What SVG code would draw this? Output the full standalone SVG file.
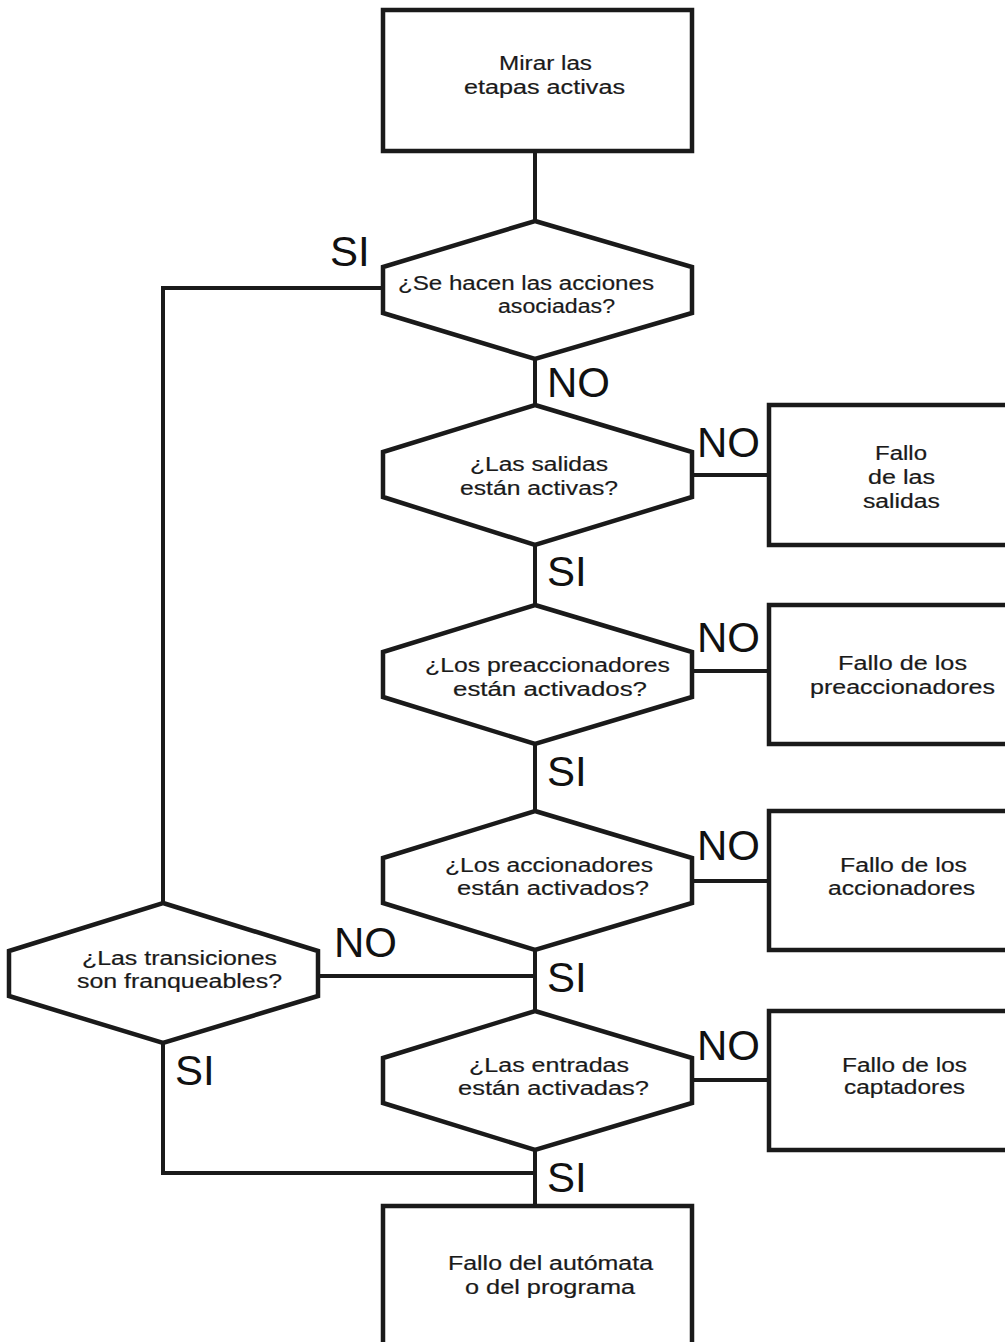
<svg xmlns="http://www.w3.org/2000/svg" width="1005" height="1342" viewBox="0 0 1005 1342">
<style>
.shape{fill:#fff;stroke:#1a1a1a;stroke-width:4.5;stroke-linejoin:miter}
.conn{fill:none;stroke:#1a1a1a;stroke-width:4}
.t{font-family:"Liberation Sans",Arial,sans-serif;font-size:20px;fill:#1a1a1a;stroke:#1a1a1a;stroke-width:0.2}
.lbl{font-family:"Liberation Sans",Arial,sans-serif;font-size:42px;fill:#111}
</style>
<rect width="1005" height="1342" fill="#fff"/>
<g id="connectors">
<path class="conn" d="M535 151V221M535 359V405M535 545V605M535 744V811M535 950V1011M535 1150V1206"/>
<path class="conn" d="M692 475H769M692 671H769M692 881H769M692 1080H769"/>
<path class="conn" d="M383 288H163V903M163 1043V1173H535M318 976H535"/>
</g>
<g id="n_start">
<rect class="shape" x="383" y="10" width="309" height="141"/>
<text class="t" x="499" y="70" textLength="93" lengthAdjust="spacingAndGlyphs">Mirar las</text>
<text class="t" x="464" y="94" textLength="161" lengthAdjust="spacingAndGlyphs">etapas activas</text>
</g>
<g id="q_acciones">
<polygon class="shape" points="535,221 692,267 692,313 535,359 383,313 383,267"/>
<text class="t" x="398" y="290" textLength="256" lengthAdjust="spacingAndGlyphs">¿Se hacen las acciones</text>
<text class="t" x="498" y="313" textLength="117" lengthAdjust="spacingAndGlyphs">asociadas?</text>
</g>
<g id="q_salidas">
<polygon class="shape" points="535,405 692,452 692,497 535,545 383,497 383,452"/>
<text class="t" x="470" y="471" textLength="138" lengthAdjust="spacingAndGlyphs">¿Las salidas</text>
<text class="t" x="460" y="495" textLength="158" lengthAdjust="spacingAndGlyphs">están activas?</text>
</g>
<g id="f_salidas">
<rect class="shape" x="769" y="405" width="245" height="140"/>
<text class="t" x="875" y="460" textLength="52" lengthAdjust="spacingAndGlyphs">Fallo</text>
<text class="t" x="868" y="484" textLength="67" lengthAdjust="spacingAndGlyphs">de las</text>
<text class="t" x="863" y="508" textLength="77" lengthAdjust="spacingAndGlyphs">salidas</text>
</g>
<g id="q_preacc">
<polygon class="shape" points="535,605 692,652 692,697 535,744 383,697 383,652"/>
<text class="t" x="425" y="672" textLength="245" lengthAdjust="spacingAndGlyphs">¿Los preaccionadores</text>
<text class="t" x="453" y="696" textLength="194" lengthAdjust="spacingAndGlyphs">están activados?</text>
</g>
<g id="f_preacc">
<rect class="shape" x="769" y="605" width="245" height="139"/>
<text class="t" x="838" y="670" textLength="129" lengthAdjust="spacingAndGlyphs">Fallo de los</text>
<text class="t" x="810" y="694" textLength="185" lengthAdjust="spacingAndGlyphs">preaccionadores</text>
</g>
<g id="q_acc">
<polygon class="shape" points="535,811 692,858 692,903 535,950 383,903 383,858"/>
<text class="t" x="445" y="872" textLength="208" lengthAdjust="spacingAndGlyphs">¿Los accionadores</text>
<text class="t" x="457" y="895" textLength="192" lengthAdjust="spacingAndGlyphs">están activados?</text>
</g>
<g id="f_acc">
<rect class="shape" x="769" y="811" width="245" height="139"/>
<text class="t" x="840" y="872" textLength="127" lengthAdjust="spacingAndGlyphs">Fallo de los</text>
<text class="t" x="828" y="895" textLength="147" lengthAdjust="spacingAndGlyphs">accionadores</text>
</g>
<g id="q_trans">
<polygon class="shape" points="163,903 318,951 318,996 163,1043 9,996 9,951"/>
<text class="t" x="82" y="965" textLength="195" lengthAdjust="spacingAndGlyphs">¿Las transiciones</text>
<text class="t" x="77" y="988" textLength="205" lengthAdjust="spacingAndGlyphs">son franqueables?</text>
</g>
<g id="q_entradas">
<polygon class="shape" points="535,1011 692,1058 692,1103 535,1150 383,1103 383,1058"/>
<text class="t" x="469" y="1072" textLength="160" lengthAdjust="spacingAndGlyphs">¿Las entradas</text>
<text class="t" x="458" y="1095" textLength="191" lengthAdjust="spacingAndGlyphs">están activadas?</text>
</g>
<g id="f_capt">
<rect class="shape" x="769" y="1011" width="245" height="139"/>
<text class="t" x="842" y="1072" textLength="125" lengthAdjust="spacingAndGlyphs">Fallo de los</text>
<text class="t" x="844" y="1094" textLength="121" lengthAdjust="spacingAndGlyphs">captadores</text>
</g>
<g id="f_automata">
<rect class="shape" x="383" y="1206" width="309" height="150"/>
<text class="t" x="448" y="1270" textLength="205" lengthAdjust="spacingAndGlyphs">Fallo del autómata</text>
<text class="t" x="465" y="1294" textLength="170" lengthAdjust="spacingAndGlyphs">o del programa</text>
</g>
<g id="labels">
<text class="lbl" x="330" y="266">SI</text>
<text class="lbl" x="547" y="397">NO</text>
<text class="lbl" x="697" y="457">NO</text>
<text class="lbl" x="547" y="586">SI</text>
<text class="lbl" x="697" y="652">NO</text>
<text class="lbl" x="547" y="786">SI</text>
<text class="lbl" x="697" y="860">NO</text>
<text class="lbl" x="334" y="957">NO</text>
<text class="lbl" x="547" y="992">SI</text>
<text class="lbl" x="697" y="1060">NO</text>
<text class="lbl" x="175" y="1085">SI</text>
<text class="lbl" x="547" y="1192">SI</text>
</g>
</svg>
